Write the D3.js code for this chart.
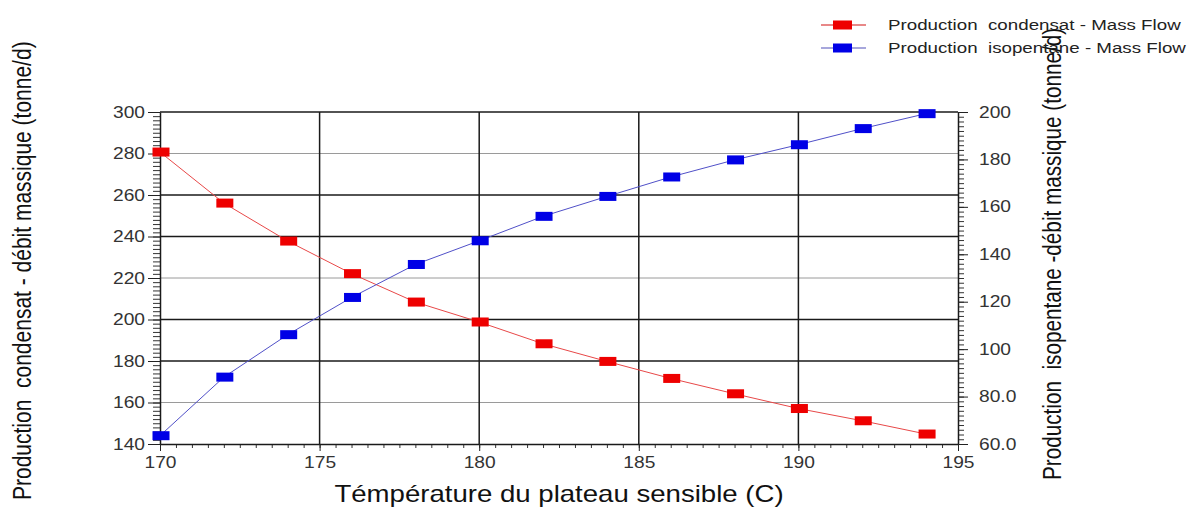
<!DOCTYPE html>
<html>
<head>
<meta charset="utf-8">
<script src="https://cdn.jsdelivr.net/npm/d3@7"></script>
<style>
  html, body { margin: 0; padding: 0; background: #fff; }
  svg text { font-family: "Liberation Sans", Arial, sans-serif; white-space: pre; }
</style>
</head>
<body>
<div id="chart"></div>
<script>
// temperature of the sensitive tray (C)
const temps = [170, 172, 174, 176, 178, 180, 182, 184, 186, 188, 190, 192, 194];
// condensate production, left axis (tonne/d)
const condensat = [280.7, 256.1, 237.8, 222.1, 208.4, 198.8, 188.3, 179.8, 171.6, 164.2, 157.1, 151.2, 144.8];
// isopentane production, right axis (tonne/d)
const isopentane = [63.5, 88.2, 106.1, 121.8, 135.7, 145.7, 156.0, 164.4, 172.6, 179.8, 186.2, 193.0, 199.3];

const xTicks = [170, 175, 180, 185, 190, 195];
const leftTicks = [140, 160, 180, 200, 220, 240, 260, 280, 300];
const rightTicks = [60, 80, 100, 120, 140, 160, 180, 200];

const legendLabels = ["Production  condensat - Mass Flow", "Production  isopentane - Mass Flow"];
const xTitle = "Témpérature du plateau sensible (C)";
const leftTitle = "Production  condensat - débit massique (tonne/d)";
const rightTitle = "Production  isopentane -débit massique (tonne/d)";

const W = 1193, H = 512;
const margin = { top: 112, right: 235, bottom: 68, left: 160 };
const width = W - margin.left - margin.right,
    height = H - margin.top - margin.bottom;

// the source picture is stretched sideways, so its text is too
const sx = 1.2;

const svg = d3.select("#chart")
    .append("svg")
    .attr("width", W)
    .attr("height", H);

svg.append("rect").attr("width", W).attr("height", H).attr("fill", "#fff");

const g = svg.append("g")
    .attr("transform", `translate(${margin.left}, ${margin.top})`);

const x = d3.scaleLinear().domain([170, 195]).range([0, width]);
const yL = d3.scaleLinear().domain([140, 300]).range([height, 0]);
const yR = d3.scaleLinear().domain([60, 200]).range([height, 0]);

function stretch(sel) {
    sel.each(function () {
        const t = d3.select(this);
        const x0 = +t.attr("x") || 0;
        t.attr("x", x0 / sx).attr("transform", `scale(${sx},1)`);
    });
}

// grid
const hGrid = leftTicks.filter(d => d > 140 && d < 300).reverse();
g.selectAll(".hgrid")
    .data(hGrid)
    .join("line")
    .attr("x1", 0).attr("x2", width)
    .attr("y1", d => yL(d)).attr("y2", d => yL(d))
    .attr("stroke", (d, i) => i % 3 === 0 ? "#9a9a9a" : "#1a1a1a")
    .attr("stroke-width", (d, i) => i % 3 === 0 ? 1 : 1.5);

g.selectAll(".vgrid")
    .data(xTicks.filter(d => d > 170 && d < 195))
    .join("line")
    .attr("x1", d => x(d)).attr("x2", d => x(d))
    .attr("y1", 0).attr("y2", height)
    .attr("stroke", "#1a1a1a")
    .attr("stroke-width", 1.5);

// top border
g.append("line")
    .attr("x1", 0).attr("x2", width).attr("y1", 0).attr("y2", 0)
    .attr("stroke", "#1a1a1a").attr("stroke-width", 1.5);

// axes
function styleAxis(sel) {
    sel.select(".domain").attr("stroke", "#1a1a1a").attr("stroke-width", 1.5);
    sel.selectAll(".tick line").attr("stroke", "#222");
    sel.selectAll(".tick text")
        .attr("fill", "#333")
        .style("font-size", "16px");
}

// minor ticks
g.append("g")
    .call(d3.axisLeft(yL).tickValues(d3.range(140, 301, 2)).tickSize(7).tickFormat(""))
    .call(a => a.select(".domain").remove())
    .selectAll("line").attr("stroke", "#333");
g.append("g")
    .attr("transform", `translate(${width},0)`)
    .call(d3.axisRight(yR).tickValues(d3.range(60, 201, 2)).tickSize(6).tickFormat(""))
    .call(a => a.select(".domain").remove())
    .selectAll("line").attr("stroke", "#333");
g.append("g")
    .attr("transform", `translate(0,${height})`)
    .call(d3.axisBottom(x).tickValues(d3.range(170, 195.01, 0.5)).tickSize(4).tickFormat(""))
    .call(a => a.select(".domain").remove())
    .selectAll("line").attr("stroke", "#333");

const axL = g.append("g")
    .call(d3.axisLeft(yL).tickValues(leftTicks).tickSize(12).tickPadding(3).tickSizeOuter(0))
    .call(styleAxis);
stretch(axL.selectAll(".tick text"));

const axR = g.append("g")
    .attr("transform", `translate(${width},0)`)
    .call(d3.axisRight(yR).tickValues(rightTicks).tickSize(10).tickPadding(11).tickSizeOuter(0)
        .tickFormat(d => d < 100 ? d3.format(".1f")(d) : d3.format("d")(d)))
    .call(styleAxis);
stretch(axR.selectAll(".tick text"));

const axB = g.append("g")
    .attr("transform", `translate(0,${height})`)
    .call(d3.axisBottom(x).tickValues(xTicks).tickSize(7).tickPadding(3).tickSizeOuter(0))
    .call(styleAxis);
axB.selectAll(".tick text").attr("dy", "0.85em");
stretch(axB.selectAll(".tick text"));

// series
const seriesList = [
    { values: condensat, y: yL, line: "#e84848", fill: "#ee0000", legendLine: "#e06060" },
    { values: isopentane, y: yR, line: "#5050c8", fill: "#0000e6", legendLine: "#8a8ad0" }
];

const mw = 17, mh = 9;
seriesList.forEach(s => {
    const pts = temps.map((t, i) => [t, s.values[i]]);
    g.append("path")
        .datum(pts)
        .attr("fill", "none")
        .attr("stroke", s.line)
        .attr("stroke-width", 1)
        .attr("d", d3.line().x(d => x(d[0])).y(d => s.y(d[1])));
    g.selectAll(null)
        .data(pts)
        .join("rect")
        .attr("x", d => x(d[0]) - mw / 2 + 1)
        .attr("y", d => s.y(d[1]) - mh / 2)
        .attr("width", mw)
        .attr("height", mh)
        .attr("fill", s.fill);
});

// axis titles
svg.append("text")
    .attr("transform", `translate(${margin.left + width / 2},502) scale(${sx},1)`)
    .attr("text-anchor", "middle")
    .style("font-size", "23px")
    .attr("fill", "#111")
    .text(xTitle);

svg.append("text")
    .attr("transform", `translate(31,500) scale(${sx},1) rotate(-90)`)
    .attr("text-anchor", "start")
    .style("font-size", "21px")
    .attr("fill", "#111")
    .text(leftTitle);

svg.append("text")
    .attr("transform", `translate(1061,480) scale(${sx},1) rotate(-90)`)
    .attr("text-anchor", "start")
    .style("font-size", "20.7px")
    .attr("fill", "#111")
    .text(rightTitle);

// legend
const legend = svg.append("g").attr("transform", "translate(821,25)");
seriesList.forEach((s, i) => {
    const row = legend.append("g").attr("transform", `translate(0,${i * 23})`);
    row.append("line")
        .attr("x1", 0).attr("x2", 45)
        .attr("y1", 0).attr("y2", 0)
        .attr("stroke", s.legendLine).attr("stroke-width", 1.5);
    row.append("rect")
        .attr("x", 12).attr("y", -4.5)
        .attr("width", 19).attr("height", 9)
        .attr("fill", s.fill);
    row.append("text")
        .attr("transform", `translate(67,5) scale(1.25,1)`)
        .style("font-size", "15px")
        .attr("fill", "#222")
        .text(legendLabels[i]);
});
</script>
</body>
</html>
